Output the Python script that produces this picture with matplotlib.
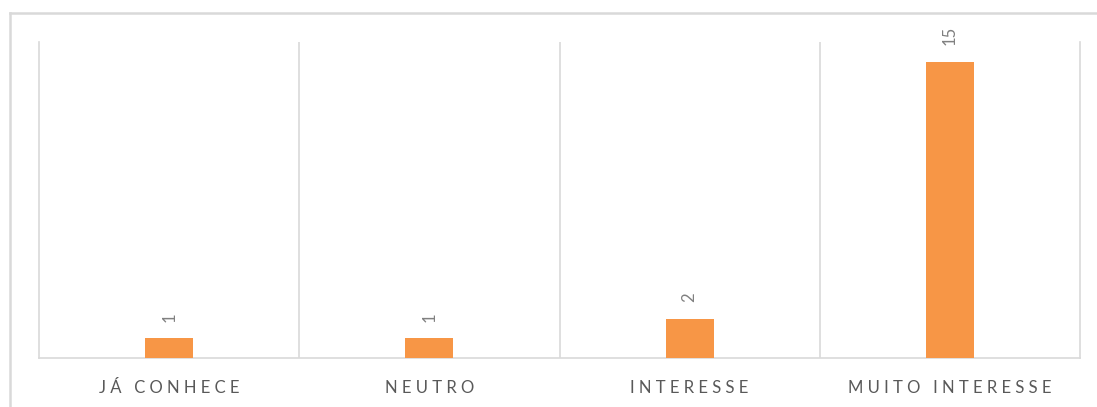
import numpy as np
import matplotlib.pyplot as plt
from matplotlib.lines import Line2D

# data
categories = ['JÁ CONHECE', 'NEUTRO', 'INTERESSE', 'MUITO INTERESSE']
values = [1, 1, 2, 15]

def spaced(s):
    # fake the wide letter spacing of the original
    return '   '.join(' '.join(w) for w in s.split(' '))

grey = '#d9d9d9'
plt.rcParams['font.family'] = ['Lato', 'DejaVu Sans']

fig = plt.figure(figsize=(10.97, 4.07), dpi=100)
ax = fig.add_axes([39/1097, 1 - 358/407, (1080 - 39)/1097, (358 - 42)/407])

x = np.arange(len(categories))
bars = ax.bar(x, values, width=0.184, color='#f79646', zorder=3)

for xi, v in zip(x, values):
    ax.annotate(str(v), (xi, v), xytext=(0, 12), textcoords='offset points',
                rotation=90, ha='center', va='bottom', fontsize=12, color='#808080')

ax.set_xlim(-0.5, 3.5)
ax.set_ylim(0, 16)
ax.set_yticks([])
ax.set_xticks(x)
ax.set_xticklabels([spaced(c) for c in categories], fontsize=12, color='#595959')
ax.tick_params(axis='x', length=0, pad=16)

for xb in np.arange(0.5, 3.5, 1):
    ax.axvline(xb, color=grey, lw=1.2, zorder=1)

ax.spines['top'].set_visible(False)
for s in ['left', 'right', 'bottom']:
    ax.spines[s].set_color(grey)
    ax.spines[s].set_linewidth(1.2)

# outer chart frame (cut off at right and bottom)
fig.add_artist(Line2D([10/1097, 1.01], [1 - 13/407, 1 - 13/407], color=grey, lw=1.8, transform=fig.transFigure))
fig.add_artist(Line2D([10/1097, 10/1097], [1 - 13/407, -0.01], color=grey, lw=1.8, transform=fig.transFigure))

plt.savefig('out.png', dpi=100)
